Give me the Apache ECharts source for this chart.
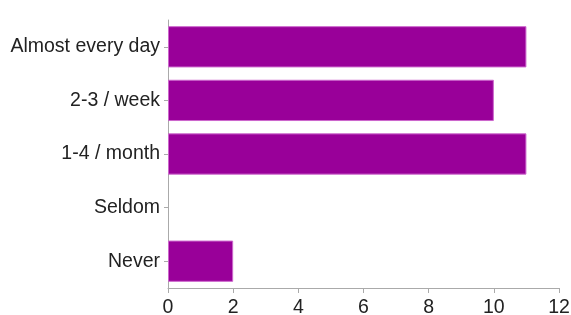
<!DOCTYPE html>
<html>
<head>
<meta charset="utf-8">
<script src="https://cdn.jsdelivr.net/npm/echarts@6/dist/echarts.min.js"></script>
<style>
  html, body { margin: 0; padding: 0; background: #fff; }
  #main { width: 571px; height: 315px; }
</style>
</head>
<body>
<div id="main"></div>
<script>
// categories, top to bottom
var categories = ['Almost every day', '2-3 / week', '1-4 / month', 'Seldom', 'Never'];
var counts = [11, 10, 11, 0, 2];
var xTicks = [0, 2, 4, 6, 8, 10, 12];

var chart = echarts.init(document.getElementById('main'), null, { renderer: 'canvas' });

// no outline on empty bars
var barData = counts.map(function (v) {
  return v === 0 ? { value: v, itemStyle: { borderWidth: 0 } } : v;
});

var option = {
  backgroundColor: '#ffffff',
  animation: false,
  grid: { left: 168, right: 12, top: 20, bottom: 27, outerBoundsMode: 'none' },
  xAxis: {
    type: 'value',
    min: xTicks[0],
    max: xTicks[xTicks.length - 1],
    interval: 2,
    axisLine: { show: true, lineStyle: { color: '#aaaaaa', width: 1 } },
    axisTick: { show: true, length: 5, lineStyle: { color: '#aaaaaa' } },
    splitLine: { show: false },
    axisLabel: { color: '#222222', fontSize: 19.5, fontFamily: 'Liberation Sans, Arial', margin: 10 }
  },
  yAxis: {
    type: 'category',
    inverse: true,
    data: categories,
    axisLine: { show: true, lineStyle: { color: '#aaaaaa', width: 1 } },
    axisTick: { show: true, length: 4, alignWithLabel: true, lineStyle: { color: '#aaaaaa' } },
    axisLabel: { color: '#222222', fontSize: 19.5, fontFamily: 'Liberation Sans, Arial', margin: 8 }
  },
  series: [{
    type: 'bar',
    data: barData,
    barCategoryGap: '23%',
    itemStyle: { color: '#990099', borderColor: '#cc66cc', borderWidth: 1 }
  }]
};

chart.setOption(option);
</script>
</body>
</html>
